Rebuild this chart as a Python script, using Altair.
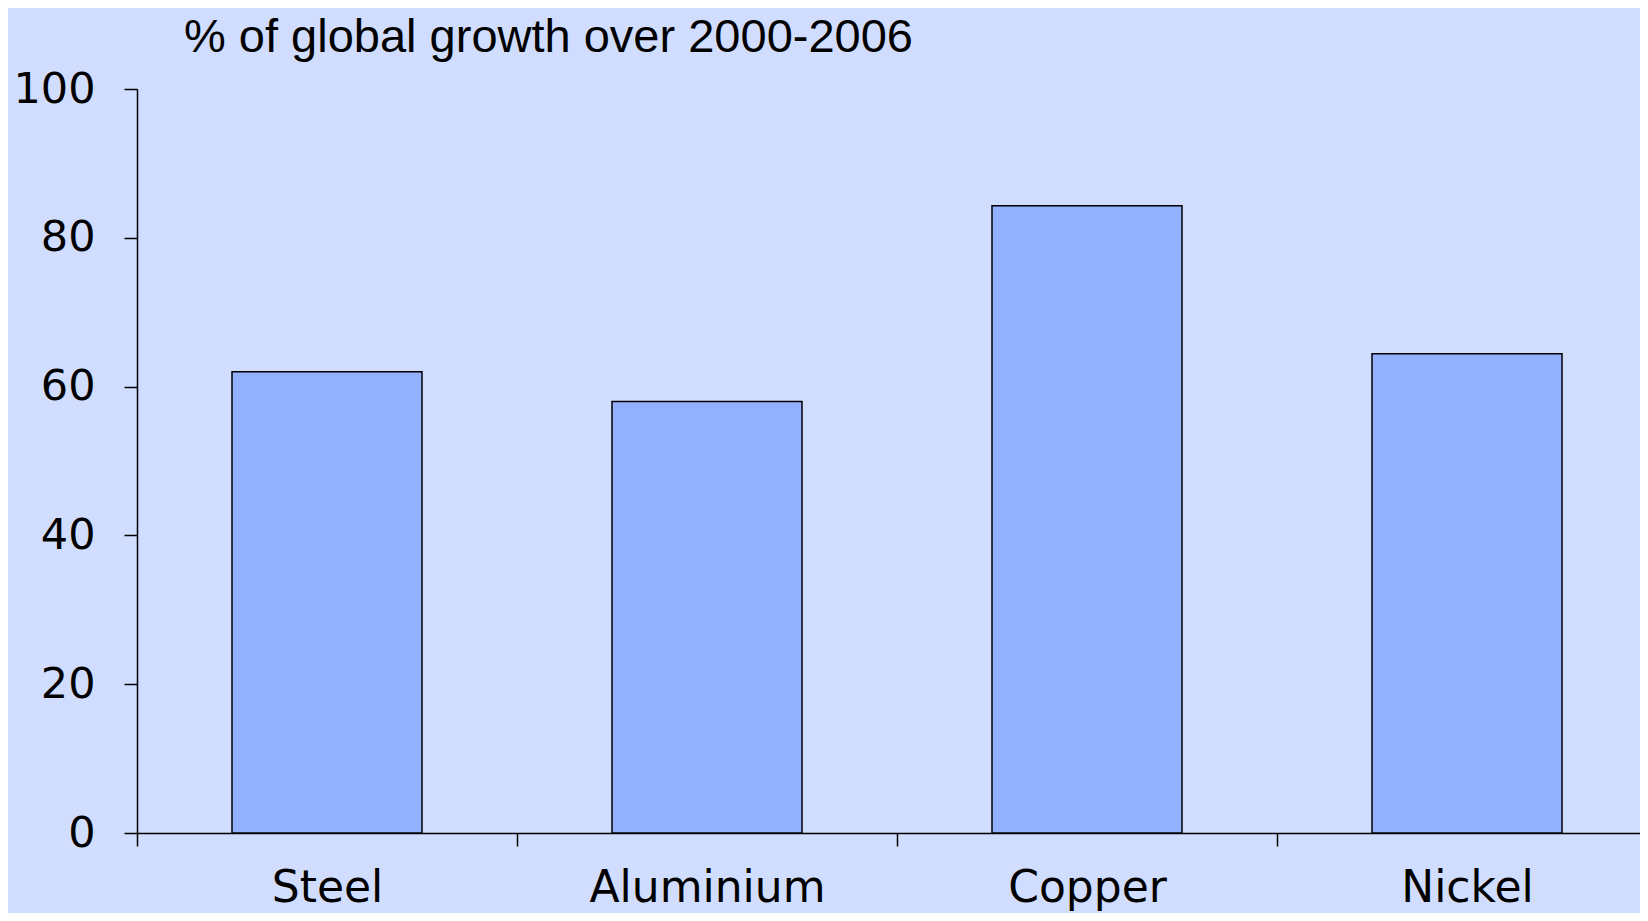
import altair as alt
import pandas as pd

categories = ["Steel", "Aluminium", "Copper", "Nickel"]
values = [62.0, 58.0, 84.3, 64.4]
y_ticks = [0, 20, 40, 60, 80, 100]
title_text = "% of global growth over 2000-2006"

df = pd.DataFrame({"metal": categories, "share": values})

BG = "#D1DDFE"
BAR = "#93B0FE"
TITLE_FONT = "Liberation Sans"
AXIS_FONT = "DejaVu Sans"

chart = (
    alt.Chart(df)
    .mark_bar(fill=BAR, stroke="black", strokeWidth=1.5, width=alt.RelativeBandSize(0.5))
    .encode(
        x=alt.X(
            "metal:N",
            sort=categories,
            title=None,
            scale=alt.Scale(range=[0, 1520], paddingInner=0, paddingOuter=0),
            axis=alt.Axis(
                labelAngle=0,
                labelFont=AXIS_FONT,
                labelFontSize=44,
                labelColor="black",
                labelPadding=20,
                labelLimit=0,
                tickBand="extent",
                tickSize=13,
                tickColor="black",
                tickWidth=1.5,
                domainColor="black",
                domainWidth=1.5,
                grid=False,
            ),
        ),
        y=alt.Y(
            "share:Q",
            title=None,
            scale=alt.Scale(domain=[0, 100], nice=False),
            axis=alt.Axis(
                values=y_ticks,
                labelFont=AXIS_FONT,
                labelFontSize=43,
                labelColor="black",
                labelPadding=29,
                labelLimit=0,
                tickSize=13,
                tickColor="black",
                tickWidth=1.5,
                domainColor="black",
                domainWidth=1.5,
                grid=False,
            ),
        ),
    )
    .properties(
        width=1503,
        height=744,
        title=alt.Title(
            title_text,
            anchor="start",
            frame="group",
            font=TITLE_FONT,
            fontSize=47,
            fontWeight="normal",
            color="black",
            dx=47,
            offset=6,
        ),
        autosize=alt.AutoSizeParams(type="none"),
        padding={"left": 129, "top": 81, "right": 0, "bottom": 80},
        background=BG,
    )
    .configure_view(stroke=None)
)

chart.save("out.html", embed_options={"renderer": "svg", "actions": False})
